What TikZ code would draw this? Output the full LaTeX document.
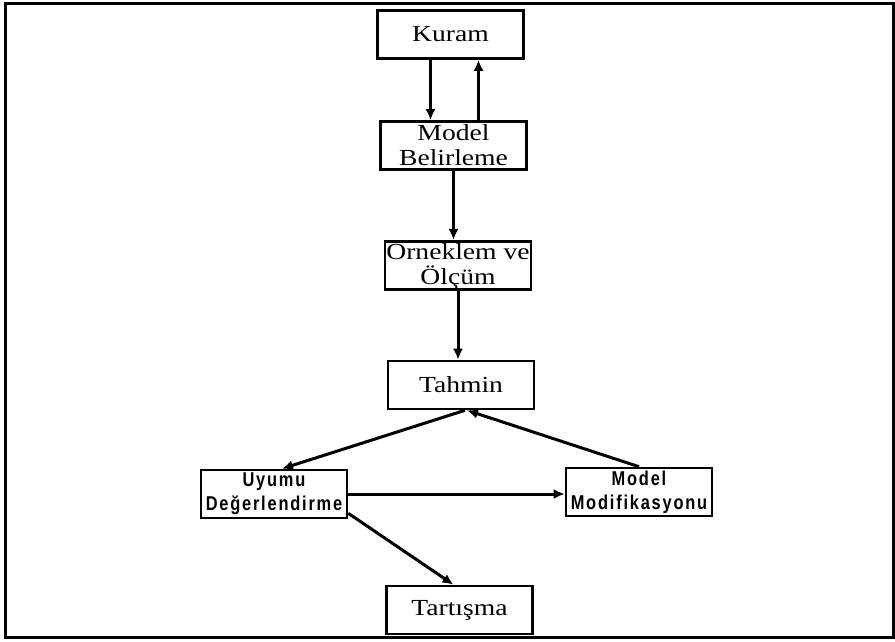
\documentclass[tikz,border=0pt]{standalone}
\usepackage{fontspec}
\setmainfont{Liberation Serif}[FakeStretch=1.2]
\newfontfamily\narrowsans[FakeStretch=0.82,LetterSpace=9]{Liberation Sans}
\usetikzlibrary{arrows.meta}

\tikzset{
  stagebox/.style={draw, line width=2.6pt, minimum width=146pt, minimum height=48pt,
    inner sep=0pt, align=center, font=\fontsize{23}{25}\selectfont},
  fitbox/.style={stagebox, font=\narrowsans\bfseries\fontsize{20}{24}\selectfont},
  flow/.style={->, line width=3pt}
}

\begin{document}
\begin{tikzpicture}[x=1pt, y=-1pt, >={Latex[length=11pt,width=10pt]}]
  \useasboundingbox (0,0) rectangle (895,641);
  \draw[line width=3pt] (5,3) rectangle (893,637);

  \node[stagebox] (kuram) at (450.5,34.5) {Kuram};
  \node[stagebox] (belirleme) at (453.5,145.5) {Model\\Belirleme};
  \node[stagebox] (orneklem) at (458,265.5) {Örneklem ve\\Ölçüm};
  \node[stagebox] (tahmin) at (461,385) {Tahmin};
  \node[fitbox] (uyum) at (274,494) {Uyumu\\Değerlendirme};
  \node[fitbox] (modifikasyon) at (639,492) {Model\\Modifikasyonu};
  \node[stagebox] (tartisma) at (459.5,610) {Tartışma};

  % kuram <-> model belirleme
  \draw[flow] ([xshift=-20pt]kuram.south) -- ([xshift=-20pt]kuram.south |- belirleme.north);
  \draw[flow] ([xshift=25pt]belirleme.north) -- ([xshift=25pt]belirleme.north |- kuram.south);
  \draw[flow] (belirleme.south) -- (belirleme.south |- orneklem.north);
  \draw[flow] (orneklem.south) -- (orneklem.south |- tahmin.north);
  % tahmin, uyum, modifikasyon
  \draw[flow] ([xshift=4pt]tahmin.south) -- ([xshift=8pt]uyum.north);
  \draw[flow] (modifikasyon.north) -- ([xshift=6pt]tahmin.south);
  \draw[flow] (uyum.east) -- (uyum.east -| modifikasyon.west);
  \draw[flow] ([yshift=6pt]uyum.south east) -- ([xshift=-6pt]tartisma.north);
\end{tikzpicture}
\end{document}
